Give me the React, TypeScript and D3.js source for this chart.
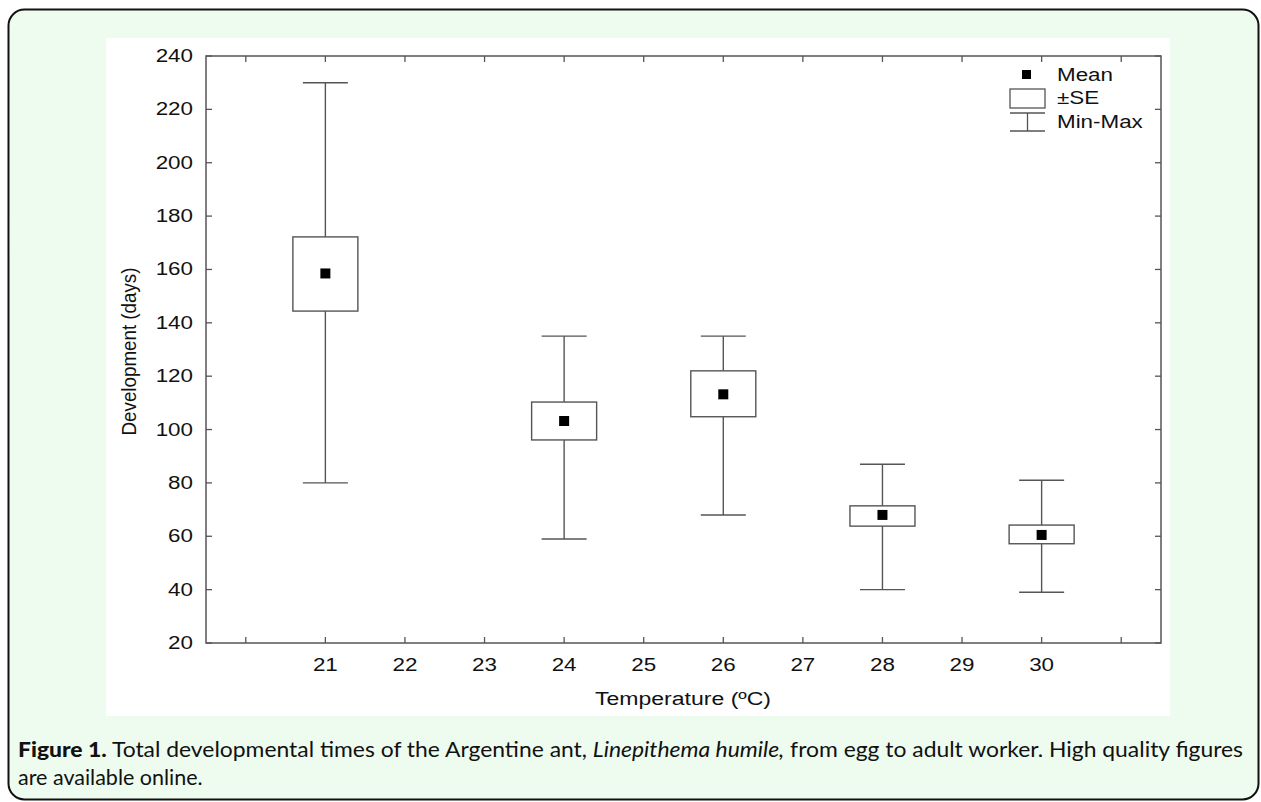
import React from "react";
import * as d3 from "d3";

const temps = [21, 24, 26, 28, 30];
const means = [158.5, 103.2, 113.2, 68, 60.5];
const seLow = [144.4, 96.1, 104.8, 63.8, 57.2];
const seHigh = [172.2, 110.3, 122, 71.4, 64.2];
const mins = [80, 59, 68, 40, 39];
const maxs = [230, 135, 135, 87, 81];
const xTicks = [20, 21, 22, 23, 24, 25, 26, 27, 28, 29, 30, 31];
const xLabels = [21, 22, 23, 24, 25, 26, 27, 28, 29, 30];
const yTicks = [20, 40, 60, 80, 100, 120, 140, 160, 180, 200, 220, 240];

const W = 1261;
const H = 802;
const L = 206, R = 1161, T = 56, B = 643;
const AX = "#555";
const FONT = "'Liberation Sans', Arial, sans-serif";
const CAP = "Lato, 'Open Sans', sans-serif";
const SX = 1.28;

function WText(props: { x: number; y: number; anchor?: string; size?: number; children: any }) {
  const { x, y, anchor = "start", size = 17.5, children } = props;
  return (
    <text
      transform={`translate(${x},${y}) scale(${SX},1)`}
      textAnchor={anchor}
      fontFamily={FONT}
      fontSize={size}
      fill="#111"
    >
      {children}
    </text>
  );
}

export default function App() {
  const x = d3.scaleLinear().domain([19.5, 31.5]).range([L, R]);
  const y = d3.scaleLinear().domain([20, 240]).range([B, T]);
  const boxW = 65;
  const capW = 45;
  const ms = 10;
  const tl = 6;

  return (
    <svg width={W} height={H} style={{ position: "absolute", left: 0, top: 0 }}>
      <rect x={8.5} y={9.5} width={1250} height={790} rx={16} fill="#EEFBEF" stroke="#111" strokeWidth={2} />
      <rect x={106} y={38} width={1064} height={678} fill="#fff" />
      <rect x={L} y={T} width={R - L} height={B - T} fill="none" stroke={AX} strokeWidth={1.5} />
      {xTicks.map((t) => (
        <g key={"xt" + t}>
          <line x1={x(t)} x2={x(t)} y1={B} y2={B - tl} stroke={AX} strokeWidth={1.3} />
          <line x1={x(t)} x2={x(t)} y1={T} y2={T + tl} stroke={AX} strokeWidth={1.3} />
        </g>
      ))}
      {xLabels.map((t) => (
        <WText key={"xl" + t} x={x(t)} y={B + 28} anchor="middle">
          {t}
        </WText>
      ))}
      {yTicks.map((t) => (
        <g key={"yt" + t}>
          <line x1={L} x2={L + tl} y1={y(t)} y2={y(t)} stroke={AX} strokeWidth={1.3} />
          <line x1={R} x2={R - tl} y1={y(t)} y2={y(t)} stroke={AX} strokeWidth={1.3} />
          <WText x={L - 13} y={y(t) + 6} anchor="end">
            {t}
          </WText>
        </g>
      ))}
      <WText x={683} y={705} anchor="middle" size={18}>
        Temperature (ºC)
      </WText>
      <text
        transform={`translate(136,${(T + B) / 2 + 2}) rotate(-90)`}
        textAnchor="middle"
        fontFamily={FONT}
        fontSize={19.5}
        textLength={168}
        lengthAdjust="spacingAndGlyphs"
        fill="#111"
      >
        Development (days)
      </text>
      {temps.map((t, i) => {
        const cx = x(t);
        return (
          <g key={"b" + t}>
            <line x1={cx} x2={cx} y1={y(maxs[i])} y2={y(mins[i])} stroke={AX} strokeWidth={1.4} />
            <line x1={cx - capW / 2} x2={cx + capW / 2} y1={y(maxs[i])} y2={y(maxs[i])} stroke={AX} strokeWidth={1.4} />
            <line x1={cx - capW / 2} x2={cx + capW / 2} y1={y(mins[i])} y2={y(mins[i])} stroke={AX} strokeWidth={1.4} />
            <rect
              x={cx - boxW / 2}
              y={y(seHigh[i])}
              width={boxW}
              height={y(seLow[i]) - y(seHigh[i])}
              fill="#fff"
              stroke={AX}
              strokeWidth={1.4}
            />
            <rect x={cx - ms / 2} y={y(means[i]) - ms / 2} width={ms} height={ms} fill="#000" />
          </g>
        );
      })}
      <rect x={1022} y={70} width={9} height={9} fill="#000" />
      <WText x={1057} y={81}>Mean</WText>
      <rect x={1010} y={89} width={35} height={19} fill="#fff" stroke={AX} strokeWidth={1.3} />
      <WText x={1057} y={104}>±SE</WText>
      <line x1={1010} x2={1045} y1={113} y2={113} stroke={AX} strokeWidth={1.3} />
      <line x1={1010} x2={1045} y1={131} y2={131} stroke={AX} strokeWidth={1.3} />
      <line x1={1027.5} x2={1027.5} y1={113} y2={131} stroke={AX} strokeWidth={1.3} />
      <WText x={1057} y={128}>Min-Max</WText>
      <text x={18} y={757} fontFamily={CAP} fontSize={21.5} fill="#111" textLength={1225} lengthAdjust="spacingAndGlyphs">
        <tspan fontWeight="900">Figure 1.</tspan>
        <tspan> Total developmental times of the Argentine ant, </tspan>
        <tspan fontStyle="italic">Linepithema humile,</tspan>
        <tspan> from egg to adult worker.  High quality figures</tspan>
      </text>
      <text x={18} y={785} fontFamily={CAP} fontSize={21.5} fill="#111">
        are available online.
      </text>
    </svg>
  );
}
